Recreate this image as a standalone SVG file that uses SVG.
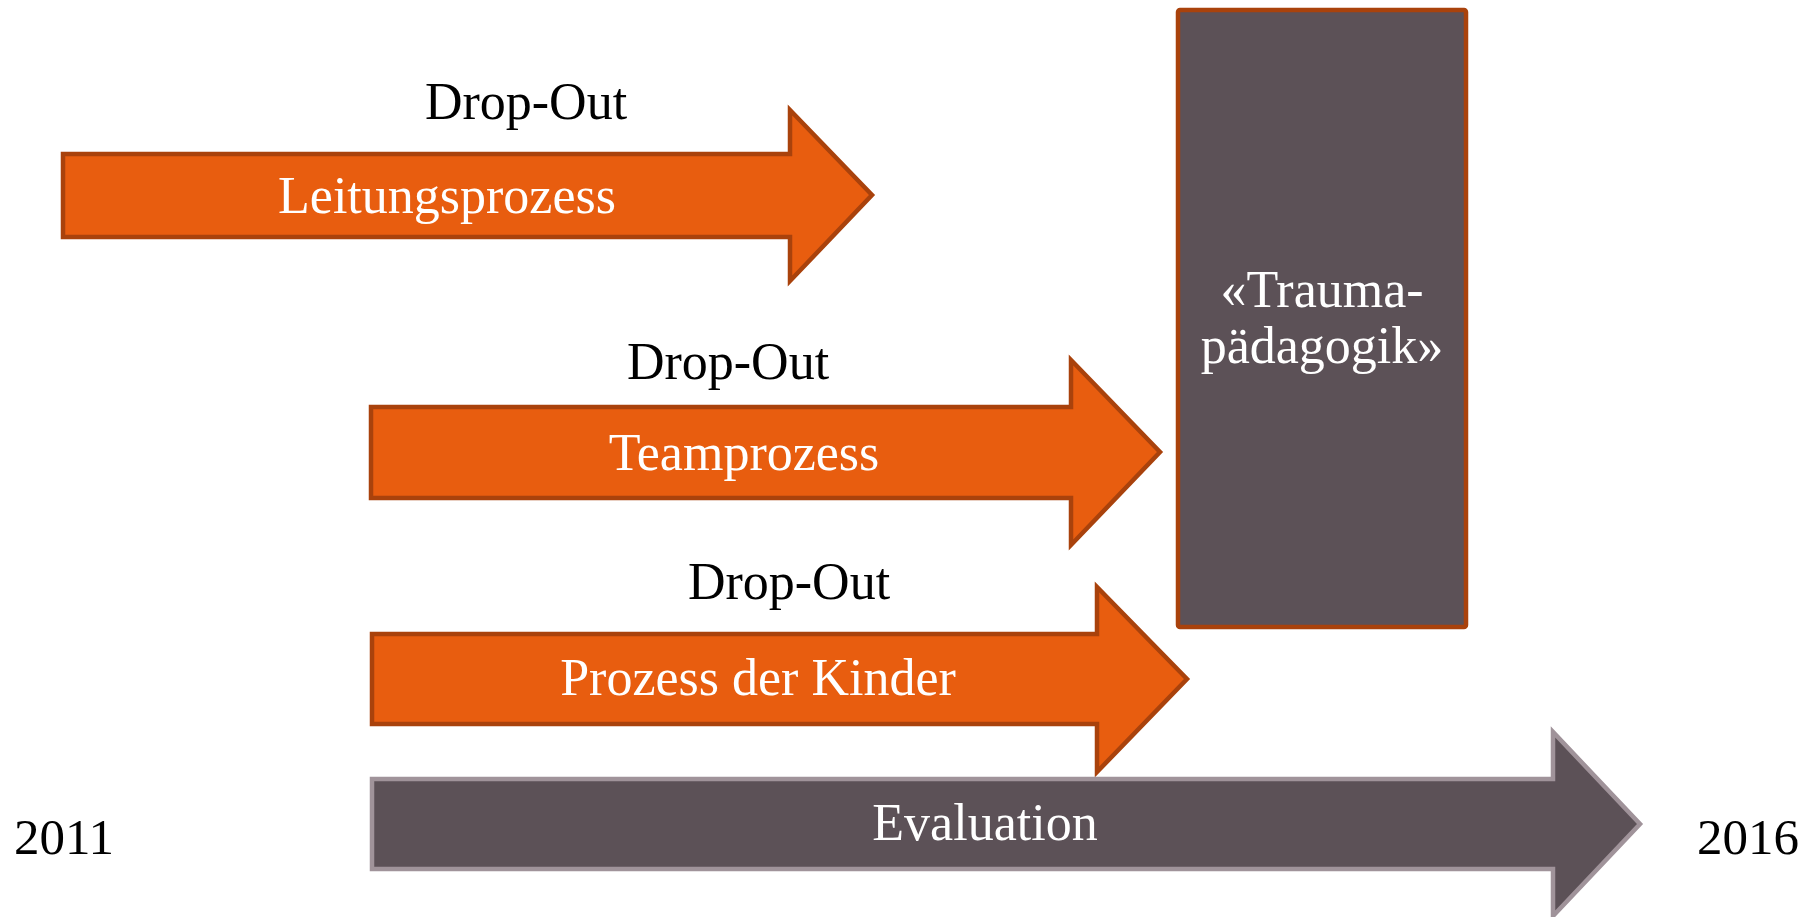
<svg xmlns="http://www.w3.org/2000/svg" width="1810" height="917" viewBox="0 0 1810 917">
<style>
.orange{fill:#E85D0F;stroke:#A9420C;stroke-width:4.5;stroke-linejoin:miter}
.gray{fill:#5C5157;stroke:#A0939A;stroke-width:4.5;stroke-linejoin:miter}
.box{fill:#5C5157;stroke:#A9420C;stroke-width:4.5}
text{font-family:"Liberation Serif","Times New Roman",serif;font-size:52px}
.w{fill:#FFFFFF;text-anchor:middle}
.b{fill:#000000;text-anchor:middle}
.y{fill:#000000;font-size:51px}
</style>
<rect x="0" y="0" width="1810" height="917" fill="#FFFFFF"/>
<g id="leitungsprozess">
<path class="orange" d="M63,154 L790,154 L790,110 L872,195 L790,281 L790,237 L63,237 Z"/>
<text class="w" x="447" y="213">Leitungsprozess</text>
</g>
<g id="dropout1"><text class="b" x="526" y="119">Drop-Out</text></g>
<g id="teamprozess">
<path class="orange" d="M371,407 L1071,407 L1071,360 L1160,452 L1071,545 L1071,498 L371,498 Z"/>
<text class="w" x="744" y="470">Teamprozess</text>
</g>
<g id="dropout2"><text class="b" x="728" y="379">Drop-Out</text></g>
<g id="kinder">
<path class="orange" d="M372,634 L1097,634 L1097,587 L1187,679 L1097,772 L1097,724 L372,724 Z"/>
<text class="w" x="758" y="695">Prozess der Kinder</text>
</g>
<g id="dropout3"><text class="b" x="789" y="599">Drop-Out</text></g>
<g id="evaluation">
<path class="gray" d="M372,779 L1553,779 L1553,732 L1640,824 L1553,916 L1553,869 L372,869 Z"/>
<text class="w" x="985" y="840">Evaluation</text>
</g>
<g id="traumapaedagogik">
<rect class="box" x="1178" y="10" width="288" height="617" rx="2"/>
<text class="w" x="1322" y="307">«Trauma-</text>
<text class="w" x="1322" y="363">pädagogik»</text>
</g>
<g id="year2011"><text class="y" x="14" y="854">2011</text></g>
<g id="year2016"><text class="y" x="1697" y="854">2016</text></g>
<g id="connectors"></g>
</svg>
